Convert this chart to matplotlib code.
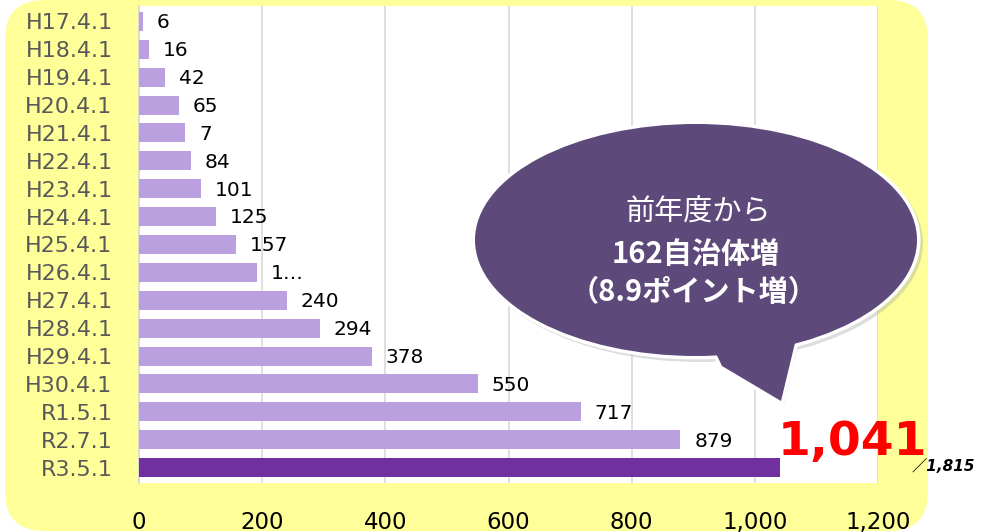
import numpy as np
import matplotlib.pyplot as plt
from matplotlib.patches import FancyBboxPatch, Ellipse, Polygon

plt.rcParams['font.family'] = ['DejaVu Sans', 'Noto Sans CJK JP']

# data
dates = ['H17.4.1', 'H18.4.1', 'H19.4.1', 'H20.4.1', 'H21.4.1', 'H22.4.1',
         'H23.4.1', 'H24.4.1', 'H25.4.1', 'H26.4.1', 'H27.4.1', 'H28.4.1',
         'H29.4.1', 'H30.4.1', 'R1.5.1', 'R2.7.1', 'R3.5.1']
counts = [6, 16, 42, 65, 75, 84, 101, 125, 157, 192, 240, 294, 378, 550, 717, 879, 1041]
labels = ['6', '16', '42', '65', '7', '84', '101', '125', '157', '1…', '240',
          '294', '378', '550', '717', '879', '']
total = '1,815'
latest = '1,041'
bubble_lines = ['前年度から', '162自治体増', '（8.9ポイント増）']

W, H = 985, 532
fig = plt.figure(figsize=(W / 100, H / 100), dpi=100)
fig.patch.set_facecolor('white')

def px(x, y):
    return (x / W, 1 - y / H)

# yellow rounded background
bg = FancyBboxPatch(px(5, 531), 923 / W, 531 / H,
                    boxstyle='round,pad=0,rounding_size=0.04',
                    transform=fig.transFigure, facecolor='#FFFF99',
                    edgecolor='none', zorder=0, mutation_aspect=W / H)
fig.add_artist(bg)

ax = fig.add_axes([139 / W, 1 - 483 / H, (878 - 139) / W, (483 - 6) / H])
ax.set_facecolor('white')
ax.set_zorder(1)

y = np.arange(len(dates))
colors = ['#BBA0E0'] * (len(dates) - 1) + ['#7030A0']
ax.barh(y, counts, height=0.68, color=colors, zorder=3)

for yi, v, lab in zip(y, counts, labels):
    if lab:
        ax.annotate(lab, (v, yi), xytext=(10, -1), textcoords='offset points',
                    ha='left', va='center', fontsize=14.5, color='black', zorder=4)

ax.set_xlim(0, 1200)
ax.set_ylim(len(dates) - 0.45, -0.55)
ax.set_xticks(np.arange(0, 1201, 200))
ax.set_xticklabels([f'{t:,}' for t in range(0, 1201, 200)])
ax.set_yticks(y)
ax.set_yticklabels(dates)
ax.tick_params(axis='x', length=0, pad=20, labelsize=16.5, labelcolor='black')
ax.tick_params(axis='y', length=0, pad=19, labelsize=16, labelcolor='#595959')
ax.grid(axis='x', color='#D9D9D9', lw=1.2, zorder=0)
for s in ['top', 'right', 'bottom']:
    ax.spines[s].set_visible(False)
ax.spines['left'].set_color('#D9D9D9')
ax.spines['left'].set_linewidth(1.2)

# big number and total
ax.annotate(latest, (counts[-1], y[-1]), xytext=(-2, 2), textcoords='offset points',
            ha='left', va='bottom', fontsize=34, fontweight='bold', color='#FF0000',
            zorder=6, annotation_clip=False)
fig.text(912 / W, 1 - 466 / H, '／' + total, fontsize=11, fontweight='bold',
         fontstyle='italic', color='black', ha='left', va='center', zorder=6,
         family=['DejaVu Sans', 'Noto Sans CJK JP'])

# speech bubble
bubble_col = '#5E497B'
cx, cy, bw, bh = 696, 240, 442, 232
tail = [px(712, 345), px(722, 366), px(781, 401), px(795, 343)]
fig.add_artist(Ellipse(px(cx + 3, cy + 3), (bw + 6) / W, (bh + 6) / H,
                       transform=fig.transFigure, facecolor='#A0A0A0', alpha=0.35,
                       edgecolor='none', zorder=7))
fig.add_artist(Polygon([(a + 3 / W, b - 3 / H) for a, b in tail], closed=True,
                       transform=fig.transFigure, facecolor='#A0A0A0', alpha=0.35,
                       edgecolor='none', zorder=7))
for lw, ec, z in [(5, 'white', 8), (0, 'none', 9)]:
    fig.add_artist(Ellipse(px(cx, cy), bw / W, bh / H, transform=fig.transFigure,
                           facecolor=bubble_col, edgecolor=ec, lw=lw, zorder=z))
    fig.add_artist(Polygon(tail, closed=True, transform=fig.transFigure,
                           facecolor=bubble_col, edgecolor=ec, lw=lw, zorder=z,
                           joinstyle='miter'))

fig.text(*px(698, 213), bubble_lines[0], fontsize=21, color='white', ha='center',
         va='center', family=['Noto Sans CJK JP'], zorder=10)
fig.text(*px(696, 254), bubble_lines[1], fontsize=21, color='white', ha='center',
         va='center', fontweight='bold', family=['Noto Sans CJK JP'], zorder=10)
fig.text(*px(694, 292), bubble_lines[2], fontsize=21, color='white', ha='center',
         va='center', fontweight='bold', family=['Noto Sans CJK JP'], zorder=10)

fig.savefig('out.png', dpi=100)
